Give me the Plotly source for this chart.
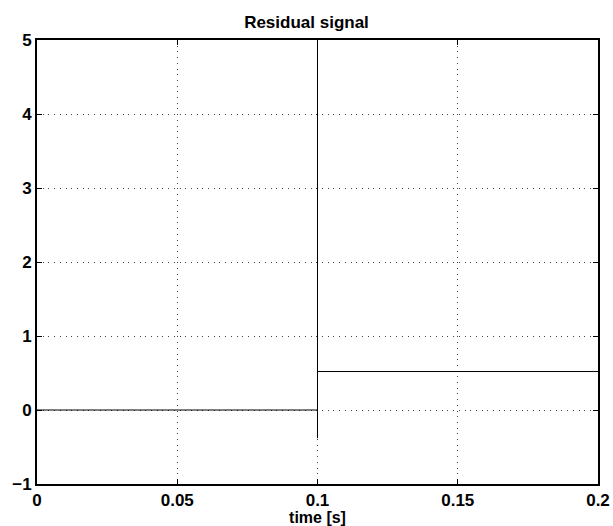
import plotly.graph_objects as go

# data
time_s = [0.0, 0.1, 0.1, 0.1, 0.1, 0.2]
residual = [0.0, 0.0, 5.0, -0.38, 0.52, 0.52]
x_ticks = [0, 0.05, 0.1, 0.15, 0.2]
x_ticktext = ["0", "0.05", "0.1", "0.15", "0.2"]
y_ticks = [-1, 0, 1, 2, 3, 4, 5]

FONT = "Liberation Sans"

fig = go.Figure()
fig.add_trace(go.Scatter(x=time_s, y=residual, mode="lines",
                         line=dict(color="black", width=1), showlegend=False,
                         cliponaxis=True))

axis_common = dict(showline=True, linecolor="black", linewidth=2, mirror="allticks",
                   ticks="inside", ticklen=5, tickcolor="black", tickwidth=1,
                   showgrid=True, gridcolor="#444444", gridwidth=1, griddash="1px,4.7px",
                   zeroline=False, automargin=False, ticklabeloverflow="allow",
                   tickfont=dict(family=FONT, size=17, color="black", weight="bold"))

fig.update_xaxes(range=[0, 0.2], tickvals=x_ticks, ticktext=x_ticktext,
                 title=dict(text="<b>time [s]</b>", standoff=0,
                            font=dict(family=FONT, size=16, color="black")),
                 **axis_common)
fig.update_yaxes(range=[-1, 5], tickvals=y_ticks, **axis_common)

fig.update_layout(
    width=613, height=526,
    margin=dict(l=37, r=15, t=40, b=42),
    paper_bgcolor="white", plot_bgcolor="white",
    title=dict(text="<b>Residual signal</b>", x=0.5, xanchor="center", y=0.958, yanchor="middle",
               font=dict(family=FONT, size=17, color="black")),
)

fig.write_html("out.html", config={"displayModeBar": False},
               post_script="document.body.style.margin='0';document.body.style.overflow='hidden';")
